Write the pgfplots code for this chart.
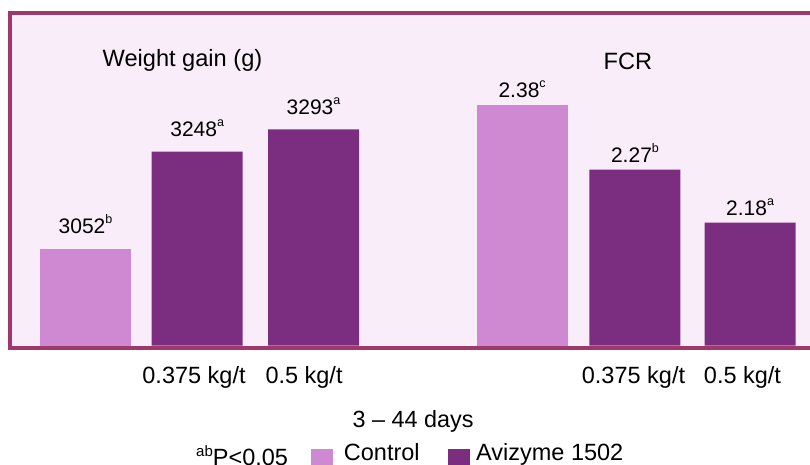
\documentclass[border=0pt]{standalone}
\usepackage{pgfplots}
\pgfplotsset{compat=1.18}
\usepackage{fontspec}
\setmainfont{Liberation Sans}
\definecolor{ctrl}{HTML}{CF88D2}
\definecolor{aviz}{HTML}{7B2D7F}
\definecolor{bgpink}{HTML}{FAEDFA}
\definecolor{framecol}{HTML}{A0386B}
\DeclareRobustCommand\sups[1]{\raisebox{10pt}{\fontsize{12.5}{12.5}\selectfont #1}}
\pgfplotsset{
  common/.style={
    at={(10pt,118.3pt)}, anchor=south west, scale only axis,
    width=800pt, height=332pt,
    xmin=-0.6623, xmax=6.3553,
    ybar, bar width=91pt,
    axis line style={draw=none}, tick style={draw=none}, major tick length=0pt,
    ytick=\empty,
    clip=false,
    nodes near coords={\pgfplotspointmeta},
    point meta=explicit symbolic,
    every node near coord/.append style={font=\fontsize{21}{25}\selectfont, inner sep=0pt, anchor=base},
    title style={anchor=base, yshift=-6pt, font=\fontsize{23.6}{28}\selectfont, inner sep=0pt},
  }
}
\begin{document}
\begin{tikzpicture}
\path[use as bounding box] (0pt,0pt) rectangle (810pt,464pt);
\draw[line width=3.6pt, draw=framecol, fill=bgpink] (10pt,116.2pt) rectangle (814pt,450.7pt);
\begin{axis}[common, ymin=2856, ymax=3526.7,
  every node near coord/.append style={yshift=15pt},
  title={Weight gain (g)}, title style={at={(rel axis cs:0.2156,0.841)}},
  xtick={0.952,1.917,4.807,5.763},
  xticklabels={0.375 kg/t,0.5 kg/t,0.375 kg/t,0.5 kg/t},
  xticklabel style={anchor=base, yshift=-37.3pt, font=\fontsize{23.5}{28}\selectfont, inner sep=0pt},
  xlabel={3 -- 44 days},
  xlabel style={at={(axis description cs:0.50375,0)}, anchor=base, yshift=-81.3pt, font=\fontsize{23.4}{28}\selectfont, inner sep=0pt},
  legend columns=-1,
  legend style={at={(axis description cs:0.2225,-0.335)}, anchor=west, draw=none, fill=none, inner sep=0pt,
    font=\fontsize{23.5}{28}\selectfont, nodes={inner sep=0pt}, cells={anchor=base},
    /tikz/column 1/.style={column sep=8pt},
    /tikz/column 2/.style={column sep=22.7pt},
    /tikz/column 3/.style={column sep=10.7pt},
    /tikz/column 4/.style={column sep=28pt},
    /tikz/column 5/.style={column sep=6pt}},
]
\addlegendimage{empty legend}
\addlegendentry{\raisebox{-5pt}{\raisebox{9pt}{\fontsize{15}{15}\selectfont ab}P<0.05}}
\addplot[fill=ctrl, draw=none, bar shift=0pt,
  legend image code/.code={\fill[ctrl] (0pt,-10.5pt) rectangle (22.5pt,11.5pt);}]
  coordinates {(0,3052) [3052\sups{b}]};
\addlegendentry{Control}
\addplot[fill=aviz, draw=none, bar shift=0pt,
  legend image code/.code={\fill[aviz] (0pt,-10.5pt) rectangle (22.5pt,11.5pt);}]
  coordinates {(0.98,3248) [3248\sups{a}] (2,3293) [3293\sups{a}]};
\addlegendentry{Avizyme 1502}
\end{axis}
\begin{axis}[common, ymin=1.971, ymax=2.535, xtick=\empty,
  every node near coord/.append style={yshift=7.5pt},
  title={FCR}, title style={at={(rel axis cs:0.7723,0.8313)}},
]
\addplot[fill=ctrl, draw=none, bar shift=0pt]
  coordinates {(3.83,2.38) [2.38\sups{c}]};
\addplot[fill=aviz, draw=none, bar shift=0pt]
  coordinates {(4.82,2.27) [2.27\sups{b}] (5.83,2.18) [2.18\sups{a}]};
\end{axis}
\end{tikzpicture}
\end{document}
